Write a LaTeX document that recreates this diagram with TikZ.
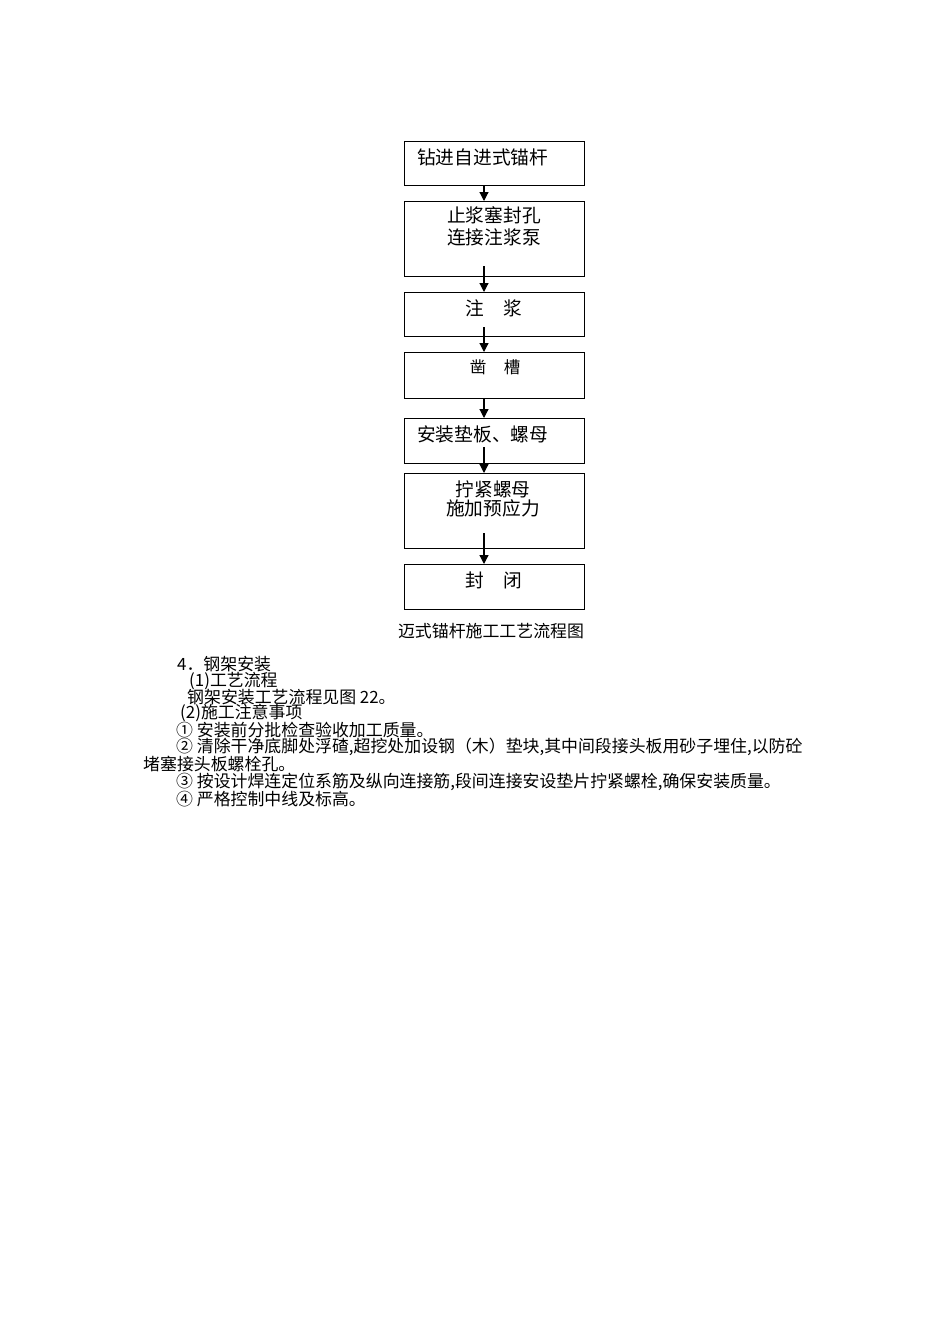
\documentclass[tikz,border=0pt]{standalone}
\usepackage{fontspec}
\setmainfont{Noto Sans CJK SC}
\usetikzlibrary{arrows.meta}
\tikzset{
  box/.style={draw=black, line width=1.3pt, rectangle, inner sep=0pt, anchor=north west},
  btxt/.style={font=\fontsize{18.7}{22}\selectfont, inner sep=0pt, anchor=center},
  btxtl/.style={font=\fontsize{18.7}{22}\selectfont, inner sep=0pt, anchor=west},
  body/.style={font=\fontsize{16.9}{18}\selectfont, inner sep=0pt, anchor=west},
  arr/.style={line width=1.2pt, -{Triangle[width=9pt,length=9pt]}}
}
\begin{document}
\begin{tikzpicture}[x=1pt,y=-1pt]
\useasboundingbox (0,0) rectangle (950,1344);
% boxes
\node[box, minimum width=180pt, minimum height=44pt] (b1) at (404,141) {};
\node[box, minimum width=180pt, minimum height=75pt] (b2) at (404,201) {};
\node[box, minimum width=180pt, minimum height=44pt] (b3) at (404,292) {};
\node[box, minimum width=180pt, minimum height=46pt] (b4) at (404,352) {};
\node[box, minimum width=180pt, minimum height=45pt] (b5) at (404,418) {};
\node[box, minimum width=180pt, minimum height=75pt] (b6) at (404,473) {};
\node[box, minimum width=180pt, minimum height=45pt] (b7) at (404,564) {};
% box texts
\node[btxtl] (t1) at (417,157) {钻进自进式锚杆};
\node[btxt] (t2a) at (494,215) {止浆塞封孔};
\node[btxt] (t2b) at (494,237) {连接注浆泵};
\node[btxt] (t3a) at (475,308) {注};
\node[btxt] (t3b) at (513,308) {浆};
\node[btxt, font=\fontsize{16.5}{20}\selectfont] (t4a) at (478,367) {凿};
\node[btxt, font=\fontsize{16.5}{20}\selectfont] (t4b) at (512,367) {槽};
\node[btxtl] (t5) at (417,434) {安装垫板、螺母};
\node[btxt] (t6a) at (493,489) {拧紧螺母};
\node[btxt] (t6b) at (493,508) {施加预应力};
\node[btxt] (t7a) at (475,580) {封};
\node[btxt] (t7b) at (513,580) {闭};
% arrow start points
\coordinate (s1) at (484,185);
\coordinate (s2) at (484,266);
\coordinate (s3) at (484,327);
\coordinate (s4) at (484,398);
\coordinate (s5) at (484,447);
\coordinate (s6) at (484,533);
\draw[arr] (s1) -- (s1 |- b2.north);
\draw[arr] (s2) -- (s2 |- b3.north);
\draw[arr] (s3) -- (s3 |- b4.north);
\draw[arr] (s4) -- (s4 |- b5.north);
\draw[arr] (s5) -- (s5 |- b6.north);
\draw[arr] (s6) -- (s6 |- b7.north);
% caption
\node[btxt, font=\fontsize{16.9}{20}\selectfont] (cap) at (491,631) {迈式锚杆施工工艺流程图};
% body text
\node[body] (l1) at (177,664) {4．钢架安装};
\node[body] (l2) at (189,681) {(1)工艺流程};
\node[body] (l3) at (187,697) {钢架安装工艺流程见图 22。};
\node[body] (l4) at (180,713) {(2)施工注意事项};
\node[body] (l5) at (176,730) {① 安装前分批检查验收加工质量。};
\node[body] (l6) at (176,747) {② 清除干净底脚处浮碴,超挖处加设钢（木）垫块,其中间段接头板用砂子埋住,以防砼};
\node[body] (l7) at (143,764) {堵塞接头板螺栓孔。};
\node[body] (l8) at (176,782) {③ 按设计焊连定位系筋及纵向连接筋,段间连接安设垫片拧紧螺栓,确保安装质量。};
\node[body] (l9) at (176,799) {④ 严格控制中线及标高。};
\end{tikzpicture}
\end{document}
